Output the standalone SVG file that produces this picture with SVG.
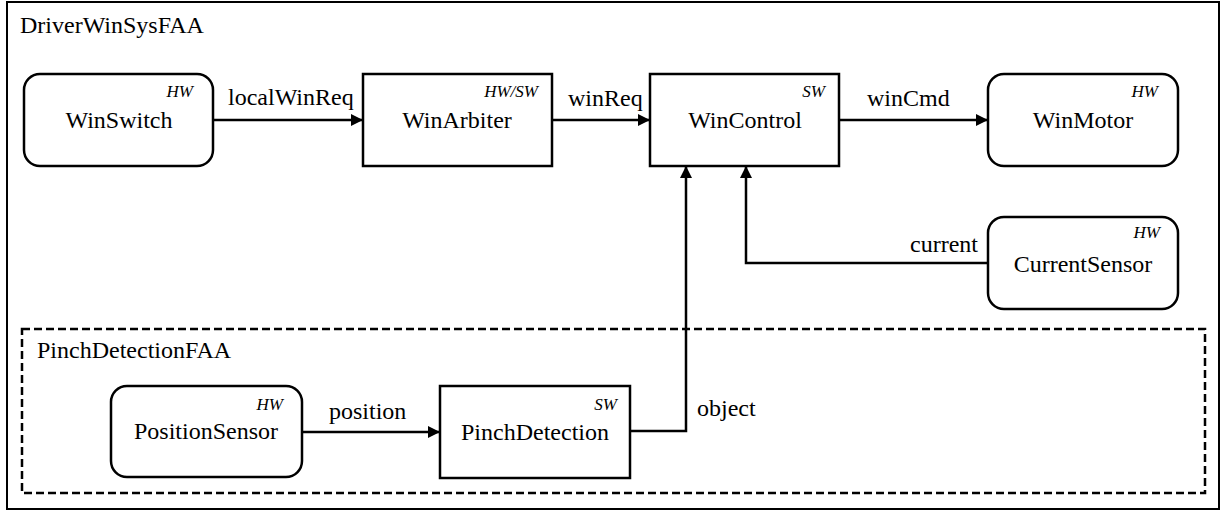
<svg xmlns="http://www.w3.org/2000/svg" width="1226" height="512" viewBox="0 0 1226 512">
<style>
  .frame{fill:#fff;stroke:#000;stroke-width:2}
  .fa{fill:none;stroke:#000;stroke-width:2.5;stroke-dasharray:8 4}
  .node{fill:#fff;stroke:#000;stroke-width:2.5}
  .conn{fill:none;stroke:#000;stroke-width:2.5}
  .type{font-size:17px;font-style:italic;text-anchor:end}
  text{fill:#000}
</style>
<defs>
  <marker id="arr" markerUnits="userSpaceOnUse" markerWidth="14" markerHeight="12" refX="12" refY="6" orient="auto">
    <path d="M0,0 L12,6 L0,12 Z" fill="#000"/>
  </marker>
</defs>
<g font-family="Liberation Serif, Tinos, Times New Roman, serif" font-size="24">
<rect class="frame" x="7" y="2" width="1212" height="507"/>
<text x="20" y="33">DriverWinSysFAA</text>
<rect class="fa" x="22" y="329" width="1183" height="164"/>
<text x="37" y="358">PinchDetectionFAA</text>

<g id="connectors">
  <path class="conn" d="M213,120 H363" marker-end="url(#arr)"/>
  <path class="conn" d="M552,120 H650" marker-end="url(#arr)"/>
  <path class="conn" d="M839,120 H988" marker-end="url(#arr)"/>
  <path class="conn" d="M988,263 H746 V166" marker-end="url(#arr)"/>
  <path class="conn" d="M302,432 H440" marker-end="url(#arr)"/>
  <path class="conn" d="M630,431 H686 V166" marker-end="url(#arr)"/>
  <text x="228" y="105">localWinReq</text>
  <text x="568" y="106">winReq</text>
  <text x="867" y="106">winCmd</text>
  <text x="978" y="252" text-anchor="end">current</text>
  <text x="329" y="419">position</text>
  <text x="697" y="416">object</text>
</g>

<g id="WinSwitch">
  <rect class="node" x="24" y="74" width="189" height="92" rx="16"/>
  <text class="type" x="193" y="97">HW</text>
  <text x="119" y="128" text-anchor="middle">WinSwitch</text>
</g>
<g id="WinArbiter">
  <rect class="node" x="363" y="74" width="189" height="92"/>
  <text class="type" x="538" y="97">HW/SW</text>
  <text x="457" y="128" text-anchor="middle">WinArbiter</text>
</g>
<g id="WinControl">
  <rect class="node" x="650" y="74" width="189" height="92"/>
  <text class="type" x="825" y="97">SW</text>
  <text x="745" y="128" text-anchor="middle">WinControl</text>
</g>
<g id="WinMotor">
  <rect class="node" x="988" y="74" width="190" height="92" rx="16"/>
  <text class="type" x="1158" y="97">HW</text>
  <text x="1083" y="128" text-anchor="middle">WinMotor</text>
</g>
<g id="CurrentSensor">
  <rect class="node" x="988" y="217" width="190" height="92" rx="16"/>
  <text class="type" x="1160" y="238">HW</text>
  <text x="1083" y="272" text-anchor="middle">CurrentSensor</text>
</g>
<g id="PositionSensor">
  <rect class="node" x="111" y="386" width="191" height="91" rx="16"/>
  <text class="type" x="283" y="410">HW</text>
  <text x="206" y="439" text-anchor="middle">PositionSensor</text>
</g>
<g id="PinchDetection">
  <rect class="node" x="440" y="386" width="190" height="92"/>
  <text class="type" x="617" y="410">SW</text>
  <text x="535" y="440" text-anchor="middle">PinchDetection</text>
</g>
</g>
</svg>
